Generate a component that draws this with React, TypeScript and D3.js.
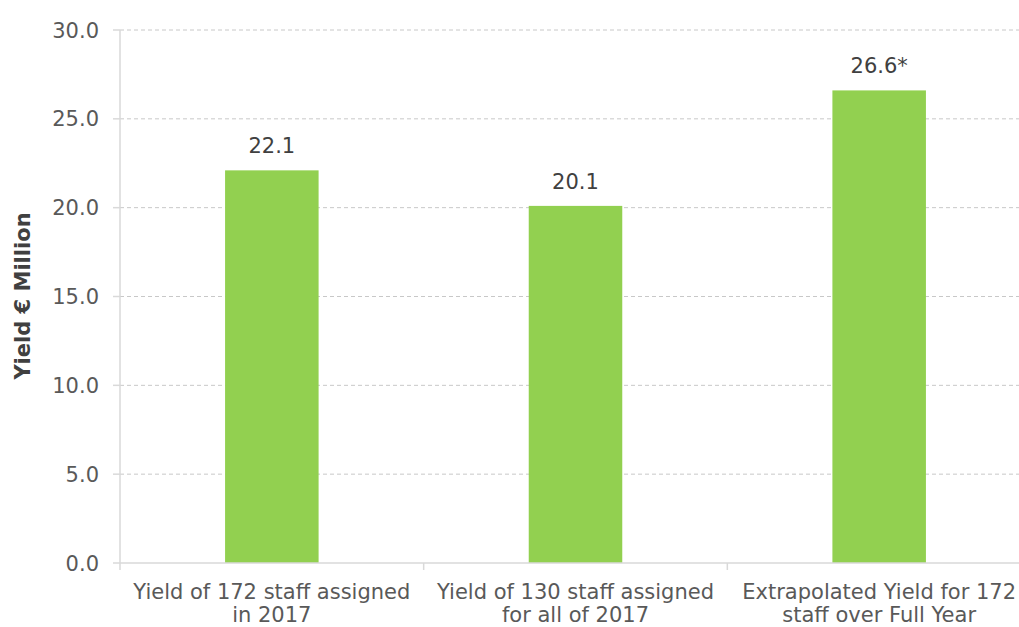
import React from "react";
import * as d3 from "d3";

const categories = [
  ["Yield of 172 staff assigned", "in 2017"],
  ["Yield of 130 staff assigned", "for all of 2017"],
  ["Extrapolated Yield for 172", "staff over Full Year"],
];
const values = [22.1, 20.1, 26.6];
const valueLabels = ["22.1", "20.1", "26.6*"];
const yTicks = [0, 5, 10, 15, 20, 25, 30];

const W = 1019;
const H = 627;
const left = 120;
const right = 1031;
const top = 30;
const bottom = 563;
const font = "Verdana, 'DejaVu Sans', sans-serif";
const textColor = "#595959";
const fs = 21;

export default function App() {
  const x = d3.scaleBand<number>().domain(d3.range(categories.length)).range([left, right]).paddingInner(0).paddingOuter(0);
  const y = d3.scaleLinear().domain([0, 30]).range([bottom, top]);
  const bw = x.bandwidth() * 0.308;
  return (
    <svg width={W} height={H} style={{ position: "absolute", left: 0, top: 0 }} fontFamily={font}>
      <rect width={W} height={H} fill="#fff" />
      {yTicks.map((t) => (
        <g key={t}>
          {t > 0 && (
            <line x1={left} x2={right} y1={y(t)} y2={y(t)} stroke="#c8c8c8" strokeDasharray="4,3" strokeWidth={1} />
          )}
          <line x1={left - 7} x2={left} y1={y(t)} y2={y(t)} stroke="#d9d9d9" strokeWidth={1.5} />
          <text x={99} y={y(t)} dy="0.36em" textAnchor="end" fontSize={fs} fill={textColor}>
            {t.toFixed(1)}
          </text>
        </g>
      ))}
      {values.map((v, i) => {
        const cx = (x(i) as number) + x.bandwidth() / 2;
        return (
          <g key={i}>
            <rect x={cx - bw / 2} y={y(v)} width={bw} height={bottom - y(v)} fill="#92D050" />
            <text x={cx} y={y(v) - 17} textAnchor="middle" fontSize={fs} fill="#404040">
              {valueLabels[i]}
            </text>
            {categories[i].map((line, j) => (
              <text key={j} x={cx} y={599 + j * 23} textAnchor="middle" fontSize={fs} fill={textColor}>
                {line}
              </text>
            ))}
          </g>
        );
      })}
      <line x1={left} x2={left} y1={top} y2={bottom} stroke="#d9d9d9" strokeWidth={1.5} />
      <line x1={left} x2={right} y1={bottom} y2={bottom} stroke="#d9d9d9" strokeWidth={1.5} />
      {d3.range(categories.length + 1).map((i) => {
        const bx = left + i * x.bandwidth();
        return <line key={i} x1={bx} x2={bx} y1={bottom} y2={bottom + 7} stroke="#d9d9d9" strokeWidth={1.5} />;
      })}
      <text
        transform={`translate(30,296) rotate(-90)`}
        textAnchor="middle"
        fontSize={fs}
        fontWeight="bold"
        fill="#404040"
      >
        Yield € Million
      </text>
    </svg>
  );
}
